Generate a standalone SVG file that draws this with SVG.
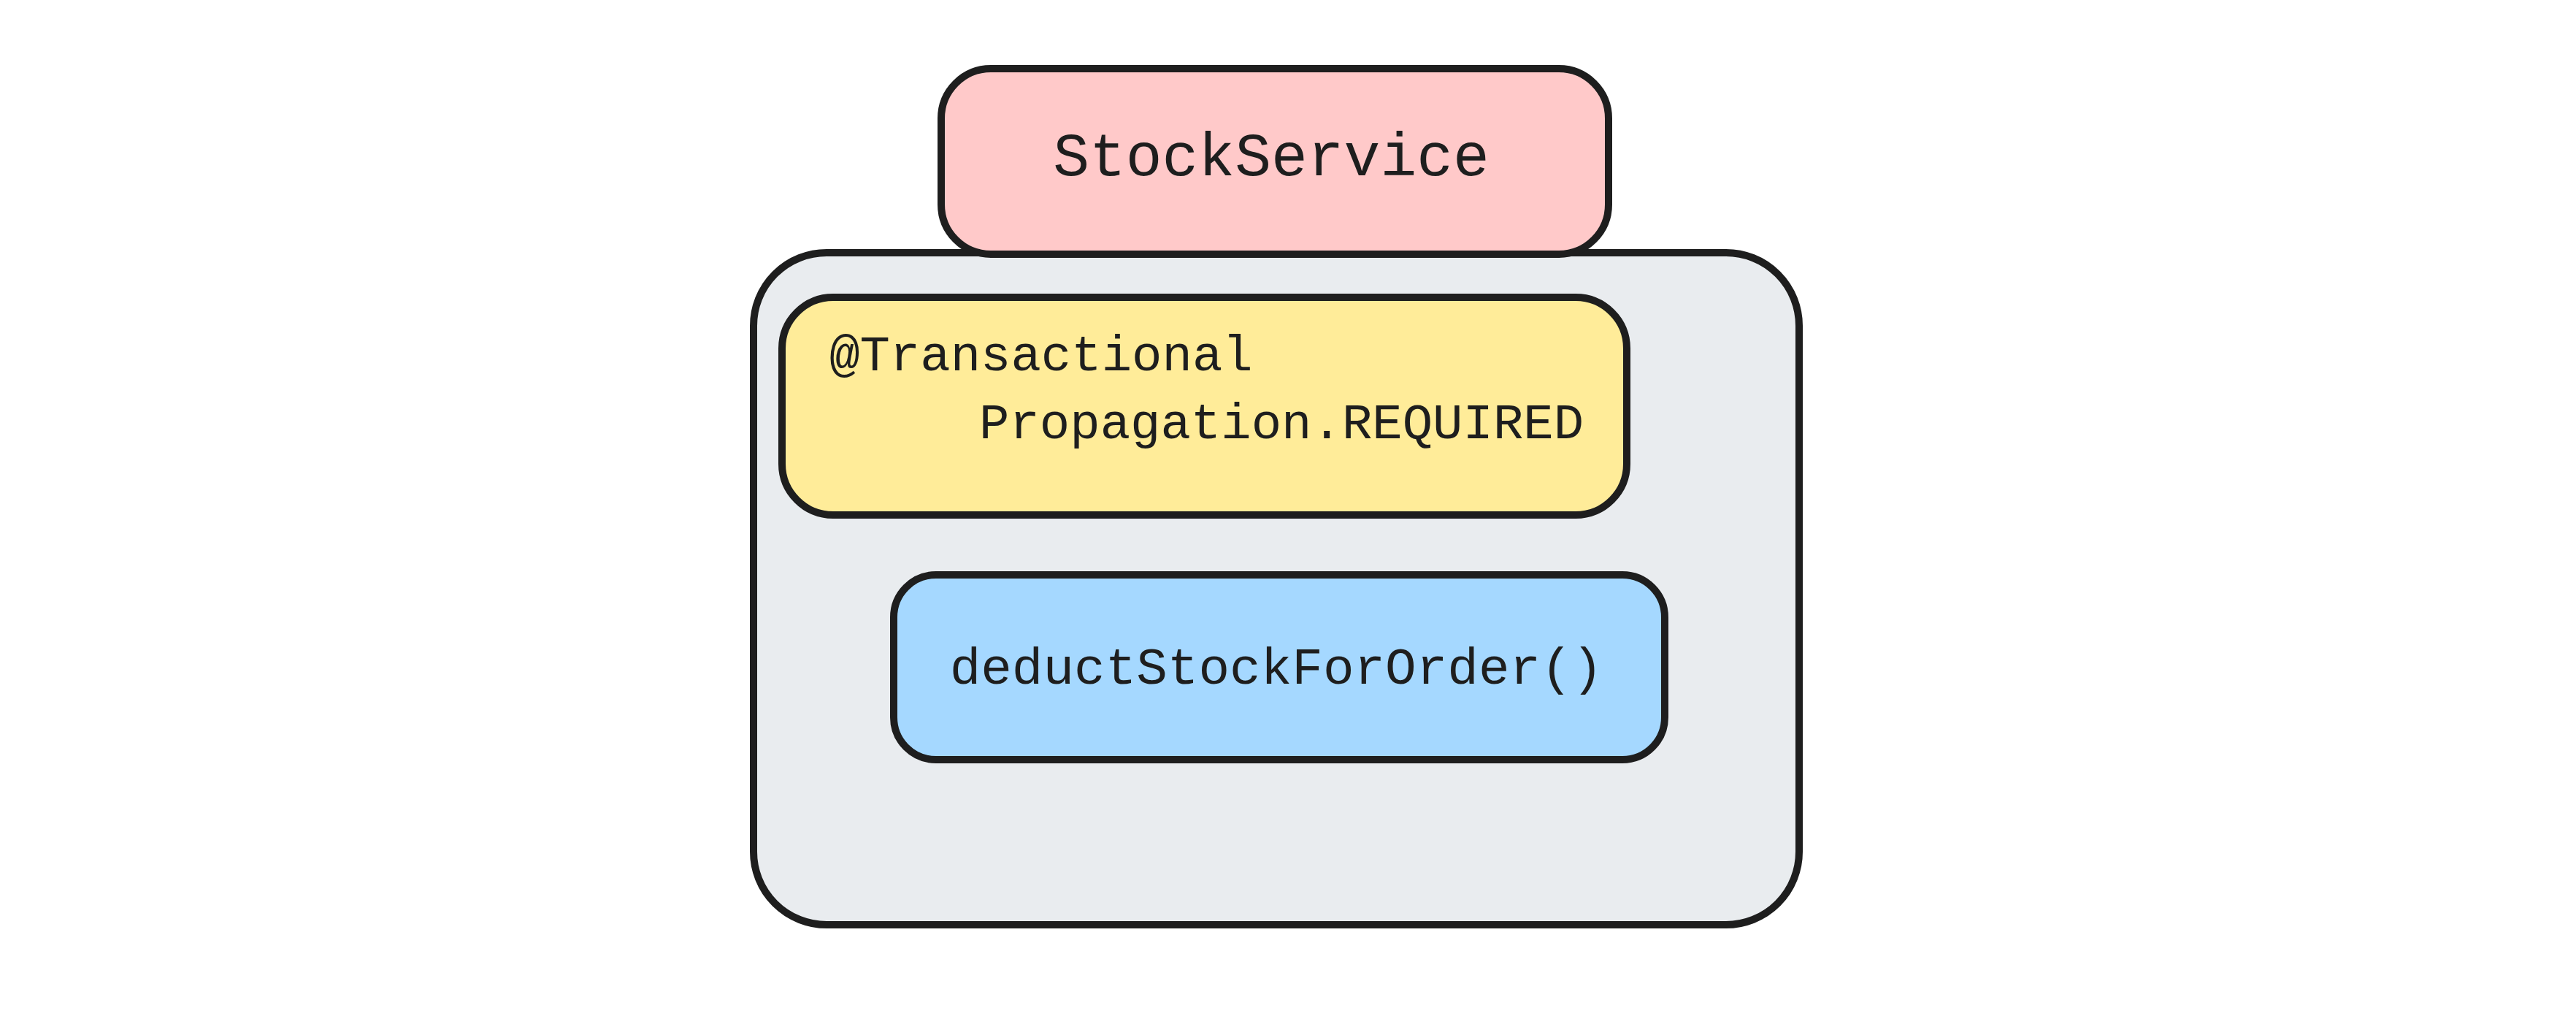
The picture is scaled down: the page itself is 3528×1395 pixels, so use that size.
<svg xmlns="http://www.w3.org/2000/svg" width="3528" height="1395" viewBox="0 0 3528 1395">
<style>
.box{stroke:#1e1e1e;stroke-width:10;stroke-linejoin:round}
.t{font-family:"Liberation Mono","DejaVu Sans Mono",monospace;fill:#1e1e1e}
</style>
<rect width="3528" height="1395" fill="#ffffff"/>
<g id="container">
<rect class="box" x="1032" y="346" width="1432" height="920" rx="100" fill="#e9ecef"/>
</g>
<g id="stockservice">
<rect class="box" x="1289" y="94" width="914" height="254" rx="68" fill="#ffc9c9"/>
<text class="t" x="1741" y="240" font-size="83" text-anchor="middle">StockService</text>
</g>
<g id="transactional">
<rect class="box" x="1071" y="407" width="1157" height="298" rx="70" fill="#ffec99"/>
<text class="t" x="1136" y="507" font-size="69">@Transactional</text>
<text class="t" x="1341" y="600" font-size="69">Propagation.REQUIRED</text>
</g>
<g id="deduct">
<rect class="box" x="1224" y="787" width="1056" height="253" rx="58" fill="#a5d8ff"/>
<text class="t" x="1748" y="936" font-size="71" text-anchor="middle">deductStockForOrder()</text>
</g>
<g id="connectors"></g>
</svg>
